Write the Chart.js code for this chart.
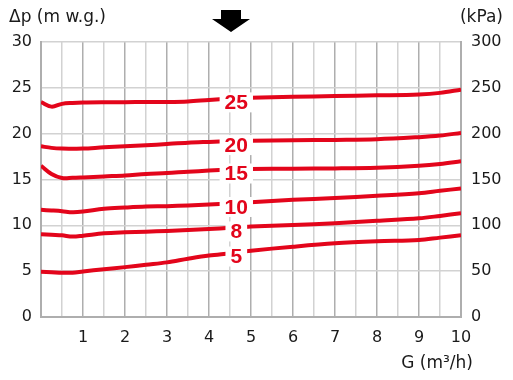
<!DOCTYPE html>
<html>
<head>
<meta charset="utf-8">
<script src="https://cdn.jsdelivr.net/npm/chart.js@4/dist/chart.umd.min.js"></script>
<style>
  html, body { margin: 0; padding: 0; background: #fff; }
  #wrap { width: 513px; height: 380px; position: relative; }
</style>
</head>
<body>
<div id="wrap"><canvas id="chart-pump"></canvas></div>
<script>
// ── Data ──────────────────────────────────────────────────────
const FLOW = [0, 0.25, 0.5, 0.75, 1, 1.5, 2, 2.5, 3, 3.5, 4, 4.5, 5, 6, 7, 8, 9, 9.5, 10];

const SETTINGS = ['25', '20', '15', '10', '8', '5'];

const HEAD_25 = [23.44, 22.95, 23.25, 23.35, 23.4, 23.43, 23.44, 23.45, 23.46, 23.52, 23.68, 23.82, 23.92, 24.03, 24.1, 24.18, 24.28, 24.45, 24.8];
const HEAD_20 = [18.62, 18.45, 18.37, 18.36, 18.37, 18.51, 18.62, 18.73, 18.88, 19.02, 19.1, 19.17, 19.24, 19.28, 19.32, 19.39, 19.62, 19.79, 20.08];
const HEAD_15 = [16.5, 15.6, 15.16, 15.18, 15.23, 15.34, 15.44, 15.6, 15.7, 15.85, 15.97, 16.07, 16.14, 16.18, 16.21, 16.29, 16.5, 16.69, 16.98];
const HEAD_10 = [11.69, 11.62, 11.54, 11.43, 11.5, 11.8, 11.94, 12.05, 12.09, 12.17, 12.27, 12.4, 12.53, 12.78, 12.97, 13.22, 13.51, 13.77, 14.02];
const HEAD_8  = [9.04, 8.97, 8.91, 8.77, 8.87, 9.13, 9.24, 9.31, 9.39, 9.5, 9.6, 9.73, 9.86, 10.04, 10.23, 10.5, 10.77, 11.03, 11.32];
const HEAD_5  = [4.93, 4.88, 4.82, 4.84, 4.97, 5.22, 5.44, 5.7, 5.96, 6.35, 6.7, 6.95, 7.23, 7.67, 8.04, 8.26, 8.4, 8.66, 8.91];

const HEADS = [HEAD_25, HEAD_20, HEAD_15, HEAD_10, HEAD_8, HEAD_5];

const Y_LEFT_TICKS  = [0, 5, 10, 15, 20, 25, 30];
const Y_RIGHT_TICKS = [0, 50, 100, 150, 200, 250, 300];
const X_TICKS = [1, 2, 3, 4, 5, 6, 7, 8, 9, 10];

const LABEL_FLOW = 4.65;   // where the curve labels sit
const ARROW_FLOW = 4.5;    // the arrow above the chart

// ── Styles ────────────────────────────────────────────────────
const RED = '#e3051b';
const FONT = 'DejaVu Sans';
const GRID_MAJOR = '#aeaeae';
const GRID_MINOR = '#d2d2d2';

function headAt(series, x) {
  for (let i = 1; i < FLOW.length; i++) {
    if (x <= FLOW[i]) {
      const t = (x - FLOW[i - 1]) / (FLOW[i] - FLOW[i - 1]);
      return series[i - 1] + t * (series[i] - series[i - 1]);
    }
  }
  return series[series.length - 1];
}

const overlay = {
  id: 'overlay',
  afterDatasetsDraw(chart) {
    const { ctx, scales: { x, y } } = chart;
    ctx.save();

    // curve labels on white boxes
    ctx.font = 'bold 21px "Liberation Sans"';
    ctx.textAlign = 'center';
    ctx.textBaseline = 'middle';
    HEADS.forEach((series, i) => {
      const px = x.getPixelForValue(LABEL_FLOW);
      const py = y.getPixelForValue(headAt(series, LABEL_FLOW)) + 4;
      const w = ctx.measureText(SETTINGS[i]).width + 10;
      ctx.fillStyle = '#fff';
      ctx.fillRect(px - w / 2, py - 10, w, 20);
      ctx.fillStyle = RED;
      ctx.fillText(SETTINGS[i], px, py + 1);
    });

    // arrow
    const ax = x.getPixelForValue(ARROW_FLOW) + 1;
    ctx.fillStyle = '#000';
    ctx.beginPath();
    ctx.moveTo(ax - 10, 10);
    ctx.lineTo(ax + 10, 10);
    ctx.lineTo(ax + 10, 19);
    ctx.lineTo(ax + 19, 19);
    ctx.lineTo(ax, 32);
    ctx.lineTo(ax - 19, 19);
    ctx.lineTo(ax - 10, 19);
    ctx.closePath();
    ctx.fill();

    // axis titles
    ctx.fillStyle = '#1a1a1a';
    ctx.font = '17px "' + FONT + '"';
    ctx.textBaseline = 'middle';
    ctx.textAlign = 'left';
    ctx.fillText('Δp (m w.g.)', 9, 18);
    ctx.textAlign = 'right';
    ctx.fillText('(kPa)', 503, 18);
    ctx.fillText('G (m³/h)', 473, 364);

    ctx.restore();
  }
};

new Chart(document.getElementById('chart-pump'), {
  type: 'line',
  data: {
    datasets: HEADS.map((series, i) => ({
      label: SETTINGS[i],
      data: FLOW.map((f, j) => ({ x: f, y: series[j] })),
      borderColor: RED,
      borderWidth: 4,
      pointRadius: 0,
      tension: 0.35,
      fill: false,
      yAxisID: 'y'
    }))
  },
  options: {
    responsive: true,
    maintainAspectRatio: false,
    animation: false,
    layout: { padding: { top: 42, left: 0, right: 0, bottom: 0 } },
    plugins: { legend: { display: false }, tooltip: { enabled: false } },
    scales: {
      x: {
        type: 'linear',
        min: 0,
        max: 10,
        afterBuildTicks: (s) => {
          s.ticks = [];
          for (let v = 0; v <= 20; v++) s.ticks.push({ value: v / 2 });
        },
        afterFit: (s) => { s.height = 63; },
        ticks: {
          autoSkip: false,
          maxRotation: 0,
          padding: 11,
          color: '#1a1a1a',
          font: { family: FONT, size: 16 },
          callback: (v) => X_TICKS.includes(v) ? String(v) : ''
        },
        grid: {
          drawTicks: false,
          lineWidth: 1.5,
          color: (c) => (c.tick && Number.isInteger(c.tick.value)) ? GRID_MAJOR : GRID_MINOR
        },
        border: { display: true, color: GRID_MAJOR, width: 2 }
      },
      y: {
        position: 'left',
        min: 0,
        max: 30,
        afterBuildTicks: (s) => { s.ticks = Y_LEFT_TICKS.map(v => ({ value: v })); },
        afterFit: (s) => { s.width = 41; },
        ticks: {
          padding: 9,
          color: '#1a1a1a',
          font: { family: FONT, size: 16 }
        },
        grid: { drawTicks: false, lineWidth: 1.5, color: GRID_MINOR },
        border: { display: true, color: GRID_MAJOR, width: 2 }
      },
      y2: {
        position: 'right',
        min: 0,
        max: 300,
        afterBuildTicks: (s) => { s.ticks = Y_RIGHT_TICKS.map(v => ({ value: v })); },
        afterFit: (s) => { s.width = 52; },
        ticks: {
          padding: 10,
          color: '#1a1a1a',
          font: { family: FONT, size: 16 }
        },
        grid: { display: false, drawTicks: false },
        border: { display: true, color: GRID_MAJOR, width: 2 }
      }
    }
  },
  plugins: [overlay]
});
</script>
</body>
</html>
